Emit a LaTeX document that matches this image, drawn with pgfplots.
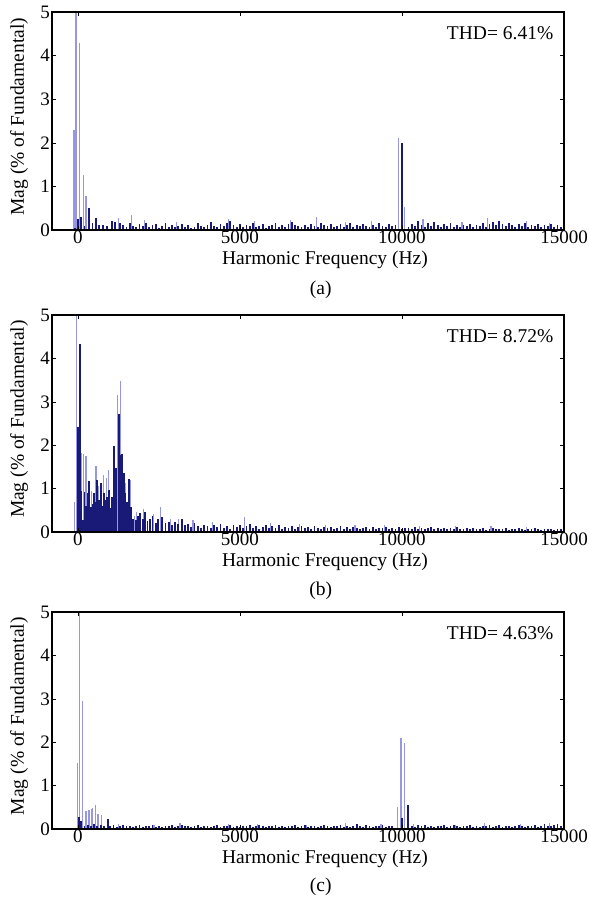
\documentclass[border=0pt]{standalone}
\usepackage{fontspec}
\setmainfont{Liberation Serif}
\usepackage{pgfplots}
\pgfplotsset{compat=1.18}

\definecolor{lightc}{RGB}{150,150,225}
\definecolor{darkc}{RGB}{25,25,120}

\pgfplotsset{
  thd/.style={
    scale only axis, width=512pt,
    xmin=-800, xmax=15000, ymin=0, ymax=5,
    xtick={0,5000,10000,15000}, ytick={0,1,2,3,4,5},
    scaled x ticks=false,
    xticklabel style={/pgf/number format/1000 sep={}},
    /pgf/number format/assume math mode=true,
    tick pos=both, tick align=inside, major tick length=4pt,
    tick style={black, line width=0.6pt},
    axis line style={black, line width=2pt},
    axis on top, clip mode=individual,
    tick label style={font=\fontsize{19}{21}\selectfont},
    label style={font=\fontsize{19.5}{21}\selectfont},
    yticklabel style={inner sep=2pt},
    xticklabel style={inner sep=1pt},
    xlabel={Harmonic Frequency (Hz)},
    xlabel style={at={(axis description cs:0.533,0)}, anchor=base, yshift=-34pt},
    ylabel={Mag (\% of Fundamental)},
    ylabel style={at={(axis description cs:-0.064,0.52)}, anchor=center},
  },
  lightbar/.style={ycomb, draw=lightc, line width=1.2pt, mark=none},
  darkbar/.style={ycomb, draw=darkc, line width=1.8pt, mark=none},
}

\begin{document}
\begin{tikzpicture}[font=\fontsize{19.5}{21}\selectfont]
\useasboundingbox (0,0) rectangle (589pt,-906pt);

% ---------------- (a)
\begin{axis}[thd, height=218pt, at={(52pt,-230pt)}, anchor=south west]
\addplot[lightbar] coordinates {(-120,2.3) (-60,5.0) (60,4.3) (160,1.27) (250,0.78)
 (1250,0.28) (1650,0.35) (2050,0.22) (3050,0.18) (4650,0.25) (5450,0.2) (6550,0.22)
 (7350,0.30) (8250,0.18) (9050,0.2) (9900,2.11) (10090,0.53) (10650,0.25) (11850,0.18)
 (12650,0.28) (13850,0.2) (14550,0.17)};
\addplot[darkbar] coordinates {(-100,0.05) (0,0.25) (100,0.30) (200,0.10) (340,0.50)
 (450,0.15) (560,0.28) (650,0.12) (780,0.12) (900,0.10) (1050,0.20) (1150,0.18) (1300,0.15)
 (1400,0.12) (1500,0.08) (1600,0.15) (1700,0.10) (1800,0.06) (1900,0.13) (2000,0.09)
 (2100,0.17) (2200,0.07) (2300,0.11) (2400,0.14) (2500,0.05) (2600,0.10) (2700,0.16)
 (2800,0.08) (2900,0.12) (3000,0.06) (3100,0.09) (3200,0.13) (3300,0.07) (3400,0.11)
 (3500,0.05) (3600,0.08) (3700,0.15) (3800,0.10) (3900,0.06) (4000,0.12) (4100,0.18)
 (4200,0.09) (4300,0.07) (4400,0.13) (4500,0.10) (4600,0.16) (4700,0.20) (4800,0.11)
 (4900,0.08) (5000,0.14) (5100,0.06) (5200,0.12) (5300,0.09) (5400,0.15) (5500,0.07)
 (5600,0.10) (5700,0.13) (5800,0.05) (5900,0.09) (6000,0.12) (6100,0.16) (6200,0.08)
 (6300,0.11) (6400,0.07) (6500,0.14) (6600,0.18) (6700,0.12) (6800,0.09) (6900,0.06)
 (7000,0.11) (7100,0.08) (7200,0.13) (7300,0.10) (7400,0.07) (7500,0.15) (7600,0.12)
 (7700,0.09) (7800,0.14) (7900,0.06) (8000,0.10) (8100,0.13) (8200,0.08) (8300,0.11)
 (8400,0.16) (8500,0.07) (8600,0.12) (8700,0.09) (8800,0.14) (8900,0.10) (9000,0.06)
 (9100,0.12) (9200,0.08) (9300,0.15) (9400,0.10) (9500,0.07) (9600,0.13) (9700,0.09)
 (9800,0.11) (10000,2.0) (10200,0.08) (10300,0.14) (10400,0.10) (10500,0.21) (10600,0.12)
 (10700,0.08) (10800,0.15) (10900,0.09) (11000,0.18) (11100,0.11) (11200,0.07) (11300,0.13)
 (11400,0.10) (11500,0.16) (11600,0.08) (11700,0.12) (11800,0.06) (11900,0.11) (12000,0.09)
 (12100,0.14) (12200,0.07) (12300,0.12) (12400,0.10) (12500,0.15) (12600,0.08) (12700,0.13)
 (12800,0.18) (12900,0.11) (13000,0.20) (13100,0.14) (13200,0.09) (13300,0.16) (13400,0.12)
 (13500,0.08) (13600,0.13) (13700,0.10) (13800,0.15) (13900,0.07) (14000,0.11) (14100,0.09)
 (14200,0.14) (14300,0.06) (14400,0.12) (14500,0.10) (14600,0.13) (14700,0.08) (14800,0.11)
 (14900,0.07)};
\node[anchor=east] at (axis description cs:0.986,0.904) {THD= 6.41\%};
\node[anchor=base] at (axis description cs:0.525,0) [yshift=-64pt] {(a)};
\end{axis}

% ---------------- (b)
\begin{axis}[thd, height=217pt, at={(52pt,-532pt)}, anchor=south west]
\addplot[lightbar] coordinates {(-100,0.68) (-55,5.0) (115,1.81) (165,1.79) (248,1.74)
 (420,0.95) (558,1.52) (640,1.05) (780,1.31) (880,1.25) (940,1.44) (1219,3.16) (1302,3.49)
 (1480,1.12) (1610,1.2) (1736,0.37) (1800,0.45) (2025,0.52) (2330,0.41) (2540,0.57)
 (2850,0.31) (3100,0.3) (3550,0.28) (4150,0.22) (5150,0.35) (5950,0.2) (6850,0.18)
 (7650,0.17) (8550,0.15) (9450,0.16) (10550,0.14) (11650,0.13) (12750,0.14) (13850,0.12)};
\addplot[darkbar] coordinates {(10,2.43) (62,4.33) (110,0.95) (150,0.28) (200,0.93)
 (250,0.6) (300,0.9) (350,1.18) (400,0.58) (450,0.65) (505,0.89) (550,0.7) (600,1.2)
 (650,0.74) (702,1.12) (750,0.6) (800,0.9) (850,0.74) (900,0.8) (960,0.97) (1010,0.55)
 (1060,0.81) (1116,1.98) (1170,1.47) (1260,2.73) (1320,1.77) (1370,1.8) (1420,1.35)
 (1470,0.9) (1520,0.7) (1570,1.21) (1640,0.58) (1700,0.3) (1780,0.28) (1850,0.36)
 (1920,0.43) (2000,0.3) (2080,0.47) (2150,0.25) (2230,0.31) (2300,0.38) (2400,0.2)
 (2480,0.3) (2600,0.35) (2700,0.2) (2800,0.24) (2900,0.16) (3000,0.22) (3100,0.18)
 (3200,0.29) (3300,0.15)
 (3400,0.18) (3500,0.12) (3600,0.2) (3700,0.14) (3800,0.1) (3900,0.17) (4000,0.13)
 (4100,0.09) (4200,0.16) (4300,0.12) (4400,0.19) (4500,0.1) (4600,0.14) (4700,0.08)
 (4800,0.15) (4900,0.11) (5000,0.17) (5100,0.09) (5200,0.13) (5300,0.18) (5400,0.1)
 (5500,0.14) (5600,0.08) (5700,0.12) (5800,0.16) (5900,0.09) (6000,0.13) (6100,0.1)
 (6200,0.15) (6300,0.08) (6400,0.12) (6500,0.1) (6600,0.14) (6700,0.07) (6800,0.11)
 (6900,0.13) (7000,0.09) (7100,0.12) (7200,0.08) (7300,0.14) (7400,0.1) (7500,0.07)
 (7600,0.12) (7700,0.09) (7800,0.11) (7900,0.06) (8000,0.1) (8100,0.13) (8200,0.08)
 (8300,0.11) (8400,0.07) (8500,0.12) (8600,0.09) (8700,0.06) (8800,0.1) (8900,0.12)
 (9000,0.08) (9100,0.11) (9200,0.07) (9300,0.1) (9400,0.09) (9500,0.12) (9600,0.06)
 (9700,0.1) (9800,0.08) (9900,0.11) (10000,0.07) (10100,0.1) (10200,0.09) (10300,0.06)
 (10400,0.11) (10500,0.08) (10600,0.1) (10700,0.07) (10800,0.09) (10900,0.12) (11000,0.06)
 (11100,0.09) (11200,0.08) (11300,0.1) (11400,0.06) (11500,0.09) (11600,0.07) (11700,0.11)
 (11800,0.08) (11900,0.06) (12000,0.09) (12100,0.07) (12200,0.1) (12300,0.06) (12400,0.08)
 (12500,0.09) (12600,0.05) (12700,0.08) (12800,0.1) (12900,0.06) (13000,0.08) (13100,0.07)
 (13200,0.09) (13300,0.05) (13400,0.08) (13500,0.06) (13600,0.09) (13700,0.07) (13800,0.05)
 (13900,0.08) (14000,0.06) (14100,0.09) (14200,0.07) (14300,0.05) (14400,0.08) (14500,0.06)
 (14600,0.07) (14700,0.05) (14800,0.08) (14900,0.06)};
\node[anchor=east] at (axis description cs:0.986,0.904) {THD= 8.72\%};
\node[anchor=base] at (axis description cs:0.525,0) [yshift=-63pt] {(b)};
\end{axis}

% ---------------- (c)
\begin{axis}[thd, height=217pt, at={(52pt,-829pt)}, anchor=south west]
\addplot[lightbar] coordinates {(-10,1.52) (40,5.0) (145,2.94) (248,0.42) (340,0.43)
 (420,0.45) (460,0.48) (548,0.56) (620,0.35) (733,0.33) (1250,0.12) (2350,0.1) (3150,0.13)
 (4650,0.11) (5550,0.12) (7050,0.1) (8250,0.13) (9350,0.11) (9866,0.5) (9969,2.09)
 (10072,1.99) (10350,0.12) (11650,0.1) (12550,0.13) (13650,0.11) (14550,0.14)};
\addplot[darkbar] coordinates {(40,0.27) (100,0.18) (200,0.08) (300,0.1) (400,0.07)
 (500,0.12) (600,0.06) (700,0.1) (800,0.08) (930,0.23)
 (1000,0.06) (1100,0.09) (1200,0.05) (1300,0.07) (1400,0.1) (1500,0.06) (1600,0.08)
 (1700,0.04) (1800,0.07) (1900,0.09) (2000,0.05) (2100,0.08) (2200,0.06) (2300,0.1)
 (2400,0.05) (2500,0.07) (2600,0.04) (2700,0.08) (2800,0.06) (2900,0.09) (3000,0.05)
 (3100,0.07) (3200,0.1) (3300,0.06) (3400,0.08) (3500,0.04) (3600,0.07) (3700,0.09)
 (3800,0.05) (3900,0.08) (4000,0.06) (4100,0.04) (4200,0.07) (4300,0.09) (4400,0.05)
 (4500,0.08) (4600,0.06) (4700,0.1) (4800,0.05) (4900,0.07) (5000,0.04) (5100,0.08)
 (5200,0.06) (5300,0.09) (5400,0.05) (5500,0.07) (5600,0.1) (5700,0.06) (5800,0.04)
 (5900,0.08) (6000,0.06) (6100,0.09) (6200,0.05) (6300,0.07) (6400,0.04) (6500,0.08)
 (6600,0.06) (6700,0.1) (6800,0.05) (6900,0.07) (7000,0.09) (7100,0.04) (7200,0.06)
 (7300,0.08) (7400,0.05) (7500,0.07) (7600,0.1) (7700,0.06) (7800,0.04) (7900,0.08)
 (8000,0.06) (8100,0.09) (8200,0.05) (8300,0.07) (8400,0.04) (8500,0.08) (8600,0.11)
 (8700,0.06) (8800,0.05) (8900,0.09) (9000,0.07) (9100,0.04) (9200,0.08) (9300,0.06)
 (9400,0.1) (9500,0.05) (9600,0.07) (9700,0.06) (9990,0.26) (10186,0.55)
 (10300,0.08) (10400,0.05) (10500,0.09) (10600,0.06) (10700,0.1) (10800,0.05) (10900,0.07)
 (11000,0.04) (11100,0.08) (11200,0.06) (11300,0.09) (11400,0.05) (11500,0.07) (11600,0.1)
 (11700,0.06) (11800,0.04) (11900,0.08) (12000,0.06) (12100,0.09) (12200,0.05) (12300,0.07)
 (12400,0.04) (12500,0.08) (12600,0.06) (12700,0.1) (12800,0.05) (12900,0.07) (13000,0.09)
 (13100,0.04) (13200,0.06) (13300,0.08) (13400,0.05) (13500,0.07) (13600,0.1) (13700,0.06)
 (13800,0.04) (13900,0.08) (14000,0.06) (14100,0.09) (14200,0.05) (14300,0.07) (14400,0.11)
 (14500,0.08) (14600,0.06) (14700,0.09) (14800,0.12) (14900,0.07)};
\node[anchor=east] at (axis description cs:0.986,0.904) {THD= 4.63\%};
\node[anchor=base] at (axis description cs:0.525,0) [yshift=-62pt] {(c)};
\end{axis}
\end{tikzpicture}
\end{document}
